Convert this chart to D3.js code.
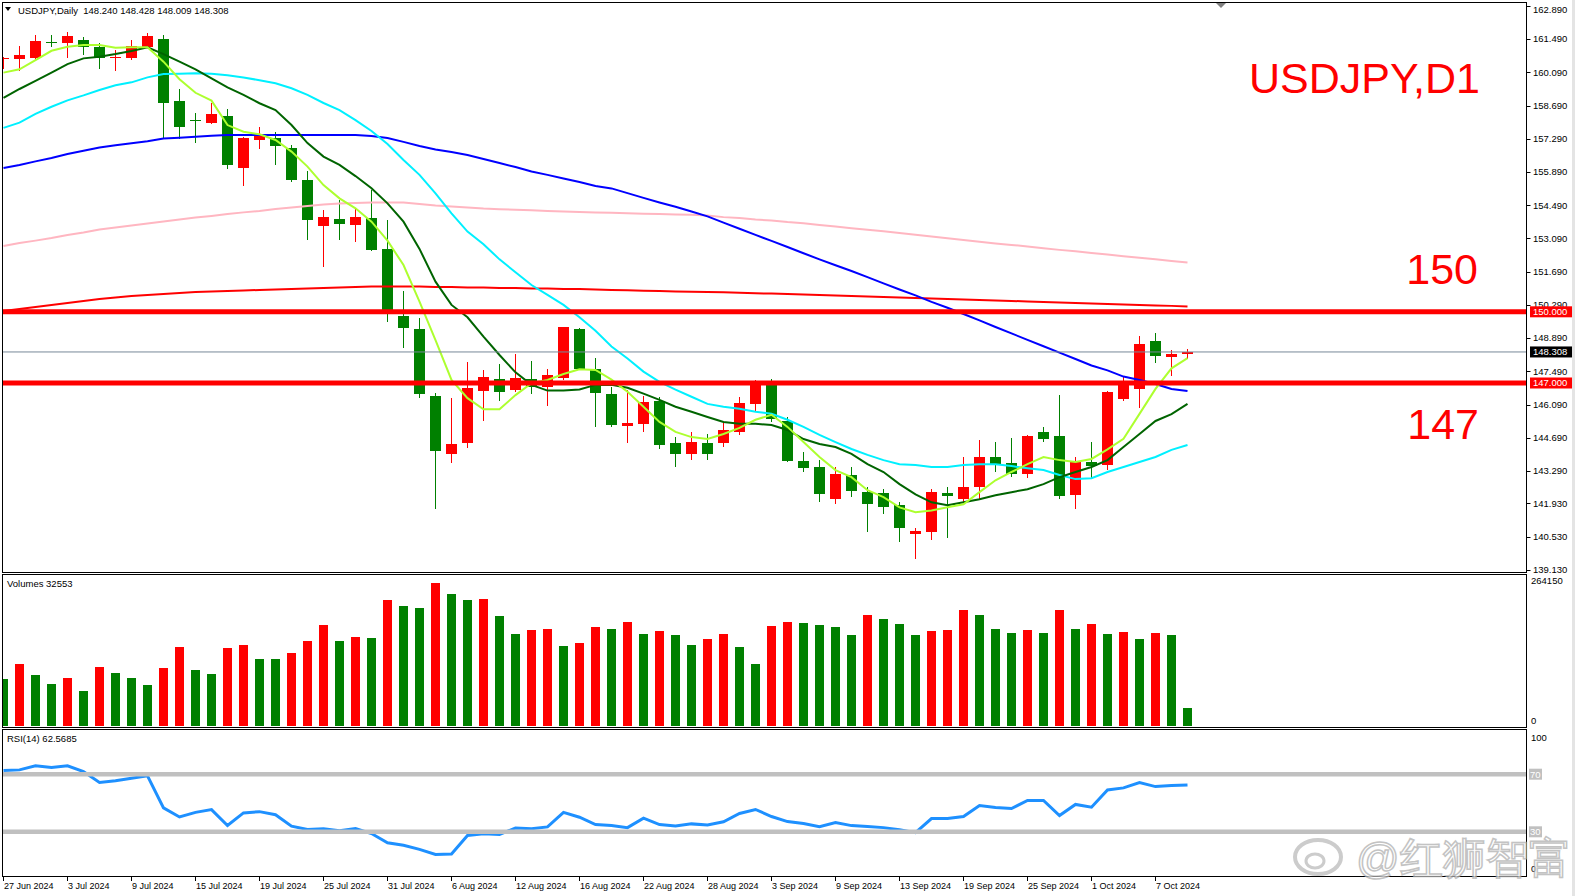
<!DOCTYPE html>
<html><head><meta charset="utf-8">
<script src="https://cdn.jsdelivr.net/npm/d3@7"></script>
<style>
body{margin:0;background:#fff;overflow:hidden}
text{font-family:"Liberation Sans",Arial,sans-serif}
</style></head>
<body><svg id="chart" width="1575" height="896"></svg>
<script>
// USDJPY daily, 27 Jun 2024 - 9 Oct 2024 (75 bars)
const open = [160.66,160.67,160.71,161.35,161.34,161.45,161.15,160.69,160.71,161.17,
  161.50,158.88,158.08,157.97,158.25,156.07,157.24,157.34,156.92,155.55,
  153.63,153.91,153.66,153.94,152.65,149.82,149.28,146.45,143.99,144.48,
  146.68,147.17,146.71,147.16,146.82,147.22,149.26,147.59,146.55,145.18,
  145.28,146.25,144.47,144.01,144.47,144.47,144.94,146.12,146.97,145.40,
  143.71,143.46,142.10,143.12,142.40,142.36,141.85,140.62,140.70,142.36,
  142.10,142.61,143.88,143.63,143.16,144.94,144.77,142.27,143.65,143.55,
  146.33,146.75,148.77,148.11,148.240];
const high = [160.72,161.20,161.67,161.67,161.79,161.59,161.32,161.03,161.45,161.74,
  161.67,159.38,158.38,158.80,158.55,157.38,157.78,157.58,157.03,155.95,
  154.29,154.71,154.32,155.13,153.87,150.88,149.73,146.57,146.38,147.90,
  147.55,147.80,148.22,147.93,147.59,149.37,149.33,148.04,146.84,146.72,
  146.45,146.42,144.73,144.94,144.85,145.36,146.42,147.14,147.18,145.57,
  144.09,143.75,143.46,143.46,142.61,142.53,141.97,140.90,142.53,142.61,
  143.88,144.60,144.52,144.68,144.81,145.15,146.50,143.88,144.50,146.65,
  147.27,148.98,149.09,148.39,148.428];
const low = [160.23,160.16,160.64,161.17,160.68,160.82,160.23,160.16,160.61,161.12,
  157.28,157.28,157.11,157.91,156.01,155.31,156.86,156.19,155.48,153.03,
  151.90,153.03,152.95,152.58,149.58,148.49,146.36,141.69,143.62,144.27,
  145.41,146.25,146.60,146.54,146.04,147.13,147.55,145.16,145.15,144.47,
  144.95,144.22,143.46,143.75,143.75,144.30,144.81,145.78,145.36,143.67,
  143.24,141.97,141.89,142.19,140.71,141.47,140.28,139.58,140.37,140.45,
  141.97,142.06,143.24,143.03,142.99,144.52,142.10,141.68,142.97,143.35,
  146.24,145.93,147.83,147.31,148.009];
const close = [160.69,160.82,161.41,161.33,161.62,161.17,160.71,160.73,161.20,161.62,
  158.79,157.80,158.04,158.34,156.19,157.34,157.48,156.99,155.55,153.87,
  154.01,153.70,154.01,152.60,150.00,149.33,146.54,144.15,144.43,146.80,
  147.24,146.63,147.20,146.82,147.32,149.35,147.58,146.59,145.23,145.30,
  146.20,144.39,144.01,144.52,144.01,145.02,146.17,147.01,145.49,143.71,
  143.41,142.31,143.16,142.44,141.89,141.76,140.87,140.75,142.40,142.23,
  142.61,143.88,143.58,143.16,144.77,144.64,142.23,143.67,143.50,146.60,
  146.92,148.64,148.15,148.24,148.308];
const volume = [83400,109600,90400,74600,85100,62400,104400,93900,85000,72900,
  102600,139400,99100,92100,137600,142900,118400,117800,128900,149900,
  177900,149800,156900,155100,221600,211100,207600,251300,232100,221500,
  223400,193600,162100,169100,170300,141100,146400,174400,171600,184000,
  162700,168000,161000,143300,153900,162700,139800,109700,176900,184000,
  182200,178700,175100,161000,196300,189300,180400,161000,168000,169800,
  203400,194600,171600,164500,169800,164500,203400,171600,180400,162700,
  166300,153900,164500,161000,32553];
const rsi = [72.5,73.0,75.8,74.6,75.8,71.8,64.3,65.4,67.2,68.9,
  46.6,40.3,43.5,45.4,34.4,43.1,44.0,41.9,33.9,31.6,
  32.1,30.8,32.3,28.8,22.4,20.6,17.8,14.3,14.6,27.5,
  28.6,28.1,32.7,32.1,33.4,43.5,40.1,35.0,34.3,32.9,
  39.5,35.0,34.0,35.5,34.8,37.0,42.7,45.5,40.6,37.1,
  35.7,33.6,36.4,34.3,33.6,32.9,31.5,29.4,39.2,39.2,
  40.6,48.3,46.9,46.2,51.8,51.8,41.3,49.0,47.1,59.1,
  60.5,64.2,61.4,62.1,62.5685];
// moving averages
const ma5 = [160.08,160.22,160.61,161.00,161.17,161.24,161.24,161.13,161.15,161.15,
  160.54,159.80,159.23,158.90,157.87,157.59,157.48,157.24,156.75,156.12,
  155.34,154.78,154.36,153.80,153.00,151.97,150.43,148.81,147.13,146.36,
  145.89,145.89,146.49,146.99,147.13,147.38,147.58,147.55,147.14,146.63,
  146.00,145.36,144.94,144.72,144.64,144.85,145.11,145.45,145.66,145.15,
  144.51,143.88,143.33,143.03,142.48,142.19,141.76,141.55,141.63,141.76,
  141.89,142.40,142.90,143.25,143.58,143.88,143.75,143.67,143.80,144.20,
  144.65,145.70,146.75,147.62,148.05];
const ma10 = [159.02,159.39,159.73,160.08,160.44,160.68,160.75,160.86,160.99,161.15,
  160.86,160.54,160.22,159.84,159.46,159.14,158.79,158.50,157.87,157.11,
  156.54,156.19,155.72,155.21,154.57,153.80,152.65,151.27,150.29,149.77,
  148.95,148.18,147.45,146.92,146.68,146.68,146.73,146.92,146.93,146.80,
  146.55,146.29,146.00,145.79,145.57,145.36,145.28,145.28,145.23,145.02,
  144.64,144.43,144.30,144.01,143.58,143.25,142.74,142.31,141.97,141.85,
  141.97,142.10,142.27,142.40,142.52,142.74,143.03,143.25,143.46,143.75,
  144.30,144.85,145.40,145.69,146.12];
const ma20 = [157.75,157.97,158.34,158.64,158.91,159.12,159.35,159.55,159.67,159.88,
  160.02,160.03,160.05,160.03,159.97,159.87,159.76,159.63,159.42,159.14,
  158.80,158.50,158.08,157.62,157.07,156.40,155.77,154.99,154.15,153.38,
  152.85,152.21,151.67,151.13,150.71,150.29,149.77,149.20,148.54,148.03,
  147.48,147.05,146.72,146.42,146.12,146.00,145.91,145.79,145.70,145.45,
  145.15,144.81,144.51,144.22,143.97,143.75,143.58,143.54,143.46,143.46,
  143.54,143.58,143.58,143.50,143.41,143.33,143.12,142.95,142.99,143.25,
  143.46,143.67,143.88,144.18,144.39];
const ma50 = [156.06,156.19,156.34,156.48,156.65,156.79,156.92,157.02,157.10,157.19,
  157.30,157.34,157.38,157.42,157.45,157.45,157.45,157.45,157.45,157.45,
  157.45,157.45,157.45,157.41,157.32,157.16,156.99,156.84,156.73,156.61,
  156.44,156.27,156.10,155.91,155.77,155.62,155.47,155.30,155.20,155.00,
  154.80,154.61,154.43,154.23,154.02,153.76,153.50,153.24,152.99,152.73,
  152.47,152.21,151.96,151.72,151.46,151.20,150.94,150.69,150.42,150.17,
  149.91,149.64,149.36,149.09,148.82,148.55,148.28,148.01,147.74,147.53,
  147.27,147.13,146.96,146.75,146.66];
const ma100 = [152.77,152.90,153.00,153.11,153.24,153.34,153.47,153.55,153.64,153.72,
  153.81,153.89,153.97,154.04,154.12,154.19,154.25,154.33,154.40,154.46,
  154.52,154.56,154.59,154.61,154.61,154.61,154.54,154.48,154.44,154.40,
  154.35,154.32,154.30,154.28,154.25,154.23,154.21,154.19,154.17,154.15,
  154.13,154.12,154.10,154.09,154.06,153.99,153.95,153.89,153.85,153.78,
  153.73,153.66,153.59,153.52,153.46,153.39,153.32,153.25,153.17,153.10,
  153.03,152.95,152.88,152.82,152.75,152.68,152.61,152.55,152.48,152.41,
  152.34,152.28,152.21,152.14,152.08];
const ma200 = [150.03,150.12,150.20,150.29,150.37,150.46,150.54,150.60,150.67,150.71,
  150.75,150.79,150.83,150.86,150.88,150.90,150.92,150.94,150.96,150.98,
  151.00,151.02,151.05,151.07,151.07,151.07,151.07,151.05,151.05,151.02,
  151.02,151.00,151.00,150.98,150.98,150.96,150.96,150.94,150.92,150.91,
  150.89,150.88,150.86,150.85,150.83,150.82,150.80,150.78,150.77,150.75,
  150.73,150.71,150.69,150.67,150.65,150.62,150.60,150.58,150.56,150.54,
  150.52,150.50,150.48,150.46,150.43,150.41,150.39,150.37,150.35,150.33,
  150.31,150.29,150.27,150.25,150.22];

const levels = [150, 147];
const lastPrice = 148.308;
const priceTicks = [162.890,161.490,160.090,158.690,157.290,155.890,154.490,153.090,151.690,
  150.290,148.890,147.490,146.090,144.690,143.290,141.930,140.530,139.130];
const dateTickIdx = [0,4,8,12,16,20,24,28,32,36,40,44,48,52,56,60,64,68,72];
const dateTickLabels = ['27 Jun 2024','3 Jul 2024','9 Jul 2024','15 Jul 2024','19 Jul 2024',
  '25 Jul 2024','31 Jul 2024','6 Aug 2024','12 Aug 2024','16 Aug 2024','22 Aug 2024',
  '28 Aug 2024','3 Sep 2024','9 Sep 2024','13 Sep 2024','19 Sep 2024','25 Sep 2024',
  '1 Oct 2024','7 Oct 2024'];
const rsiLevels = [70, 30];

const svg = d3.select('#chart');
const L = 2.5, R = 1526.5;
const UP = '#ff0000', DN = '#008000';

const x = d3.scaleLinear().domain([0, 74]).range([3.5, 1187.5]);
const y = d3.scaleLinear().domain([139.13, 162.89]).range([569.75, 5.93]);
const yv = d3.scaleLinear().domain([0, 264150]).range([726, 576]);
const yr = d3.scaleLinear().domain([0, 100]).range([875, 731]);

svg.append('rect').attr('width', 1575).attr('height', 896).attr('fill', '#fff');
svg.append('rect').attr('x', 1572).attr('y', 0).attr('width', 3).attr('height', 896).attr('fill', '#e4e4e4');

const defs = svg.append('defs');
function clip(id, y0, y1) {
  defs.append('clipPath').attr('id', id).append('rect')
    .attr('x', L + 0.5).attr('y', y0 + 0.5).attr('width', R - L - 1).attr('height', y1 - y0 - 1);
}
clip('cp', 2.5, 572.5);
clip('cv', 574.5, 727.5);
clip('cr', 729.5, 876.5);

// ---------- price pane ----------
const gp = svg.append('g').attr('clip-path', 'url(#cp)');

const idx = d3.range(open.length);
const candles = gp.append('g').attr('shape-rendering', 'crispEdges');
candles.selectAll('line').data(idx).join('line')
  .attr('x1', i => x(i)).attr('x2', i => x(i))
  .attr('y1', i => y(high[i])).attr('y2', i => y(low[i]))
  .attr('stroke', i => close[i] >= open[i] ? UP : DN);
candles.selectAll('rect').data(idx).join('rect')
  .attr('x', i => x(i) - 5.5).attr('width', 11)
  .attr('y', i => y(Math.max(open[i], close[i])))
  .attr('height', i => Math.max(1, y(Math.min(open[i], close[i])) - y(Math.max(open[i], close[i]))))
  .attr('fill', i => close[i] >= open[i] ? UP : DN);

const line = d3.line().x((d, i) => x(i)).y(d => y(d));
[[ma100, '#ffb6c1'], [ma200, '#ff0000'], [ma50, '#0000ff'], [ma20, '#00f0ff'], [ma10, '#006400'], [ma5, '#adff2f']]
  .forEach(([s, c]) => gp.append('path').datum(s).attr('d', line)
    .attr('fill', 'none').attr('stroke', c).attr('stroke-width', 2));

gp.append('line').attr('x1', L).attr('x2', R).attr('y1', y(lastPrice)).attr('y2', y(lastPrice))
  .attr('stroke', '#778899').attr('stroke-width', 1);
levels.forEach(v => gp.append('line').attr('x1', L).attr('x2', R).attr('y1', y(v)).attr('y2', y(v))
  .attr('stroke', '#ff0000').attr('stroke-width', 5));

// title
svg.append('path').attr('d', 'M5,7 L11,7 L8,11 Z').attr('fill', '#000');
svg.append('text').attr('x', 18).attr('y', 14).attr('font-size', 9.5).attr('fill', '#000')
  .text('USDJPY,Daily  148.240 148.428 148.009 148.308').attr('xml:space', 'preserve');
// shift marker
svg.append('path').attr('d', 'M1216,3 L1226,3 L1221,8 Z').attr('fill', '#808080');

svg.append('text').attr('x', 1480).attr('y', 93).attr('text-anchor', 'end')
  .attr('font-size', 43).attr('fill', '#ff0000').text('USDJPY,D1');
svg.append('text').attr('x', 1478).attr('y', 284).attr('text-anchor', 'end')
  .attr('font-size', 43).attr('fill', '#ff0000').text('150');
svg.append('text').attr('x', 1479).attr('y', 439).attr('text-anchor', 'end')
  .attr('font-size', 43).attr('fill', '#ff0000').text('147');

// ---------- volume pane ----------
const gv = svg.append('g').attr('clip-path', 'url(#cv)').attr('shape-rendering', 'crispEdges');
gv.selectAll('rect').data(idx).join('rect')
  .attr('x', i => x(i) - 4.5).attr('width', 9)
  .attr('y', i => yv(volume[i])).attr('height', i => yv(0) - yv(volume[i]))
  .attr('fill', i => (i > 0 && volume[i] > volume[i - 1]) ? UP : DN);
svg.append('text').attr('x', 7).attr('y', 587).attr('font-size', 9.5).text('Volumes ' + volume[volume.length - 1]);

// ---------- RSI pane ----------
const gr = svg.append('g').attr('clip-path', 'url(#cr)');
gr.append('path').datum(rsi)
  .attr('d', d3.line().x((d, i) => x(i)).y(d => yr(d)))
  .attr('fill', 'none').attr('stroke', '#1e90ff').attr('stroke-width', 3);
rsiLevels.forEach(v => gr.append('line').attr('x1', L).attr('x2', R).attr('y1', yr(v)).attr('y2', yr(v))
  .attr('stroke', '#c0c0c0').attr('stroke-width', 4.5));
svg.append('text').attr('x', 7).attr('y', 742).attr('font-size', 9.5).text('RSI(14) ' + rsi[rsi.length - 1]);

// ---------- frames ----------
const fr = svg.append('g').attr('fill', 'none').attr('stroke', '#000').attr('shape-rendering', 'crispEdges');
[[2.5, 572.5], [574.5, 727.5], [729.5, 876.5]].forEach(([a, b]) =>
  fr.append('rect').attr('x', L).attr('y', a).attr('width', R - L).attr('height', b - a));

// ---------- right axis ----------
const ax = svg.append('g').attr('font-size', 9.5).attr('fill', '#000');
priceTicks.forEach(v => {
  const yy = y(v);
  ax.append('line').attr('x1', R).attr('x2', R + 4).attr('y1', Math.round(yy) + 0.5).attr('y2', Math.round(yy) + 0.5)
    .attr('stroke', '#000');
  ax.append('text').attr('x', 1533).attr('y', Math.max(yy, 9.5)).attr('dy', '0.35em').text(v.toFixed(3));
});
function tag(v, yy, bg, fg) {
  ax.append('rect').attr('x', 1530).attr('y', yy - 5.5).attr('width', 42).attr('height', 11).attr('fill', bg);
  ax.append('text').attr('x', 1533).attr('y', yy).attr('dy', '0.35em').attr('fill', fg).text(v);
}
levels.forEach(v => tag(v.toFixed(3), y(v), '#ff0000', '#fff'));
tag(lastPrice.toFixed(3), y(lastPrice), '#000', '#fff');

ax.append('text').attr('x', 1531).attr('y', 581).attr('dy', '0.35em').text(d3.max(yv.domain()));
ax.append('text').attr('x', 1531).attr('y', 721).attr('dy', '0.35em').text('0');
ax.append('text').attr('x', 1531).attr('y', 738).attr('dy', '0.35em').text('100');
rsiLevels.forEach(v => {
  ax.append('rect').attr('x', 1529).attr('y', yr(v) - 5.5).attr('width', 13).attr('height', 11).attr('fill', '#c0c0c0');
  ax.append('text').attr('x', 1530).attr('y', yr(v)).attr('dy', '0.35em').attr('fill', '#fff').text(v);
});
ax.append('text').attr('x', 1531).attr('y', 869).attr('dy', '0.35em').text('0');

// ---------- date axis ----------
const dx = svg.append('g').attr('font-size', 9).attr('fill', '#000');
dateTickIdx.forEach((i, k) => {
  const xx = Math.round(x(i)) - 0.5;
  dx.append('line').attr('x1', xx).attr('x2', xx).attr('y1', 876.5).attr('y2', 881).attr('stroke', '#000');
  dx.append('text').attr('x', xx + 0.5).attr('y', 889).text(dateTickLabels[k]);
});

// watermark
const wm = svg.append('g').attr('opacity', 0.75);
wm.append('ellipse').attr('cx', 1318).attr('cy', 857).attr('rx', 23).attr('ry', 17)
  .attr('fill', 'none').attr('stroke', '#bbb').attr('stroke-width', 4);
wm.append('ellipse').attr('cx', 1315).attr('cy', 861).attr('rx', 9).attr('ry', 7)
  .attr('fill', 'none').attr('stroke', '#bbb').attr('stroke-width', 3);
wm.append('text').attr('x', 1356).attr('y', 873).attr('font-size', 43)
  .attr('font-family', '"Noto Sans CJK SC",sans-serif')
  .attr('fill', '#fff').attr('stroke', '#b0b0b0').attr('stroke-width', 1.5)
  .text('@红狮智富');
</script>
</body></html>
